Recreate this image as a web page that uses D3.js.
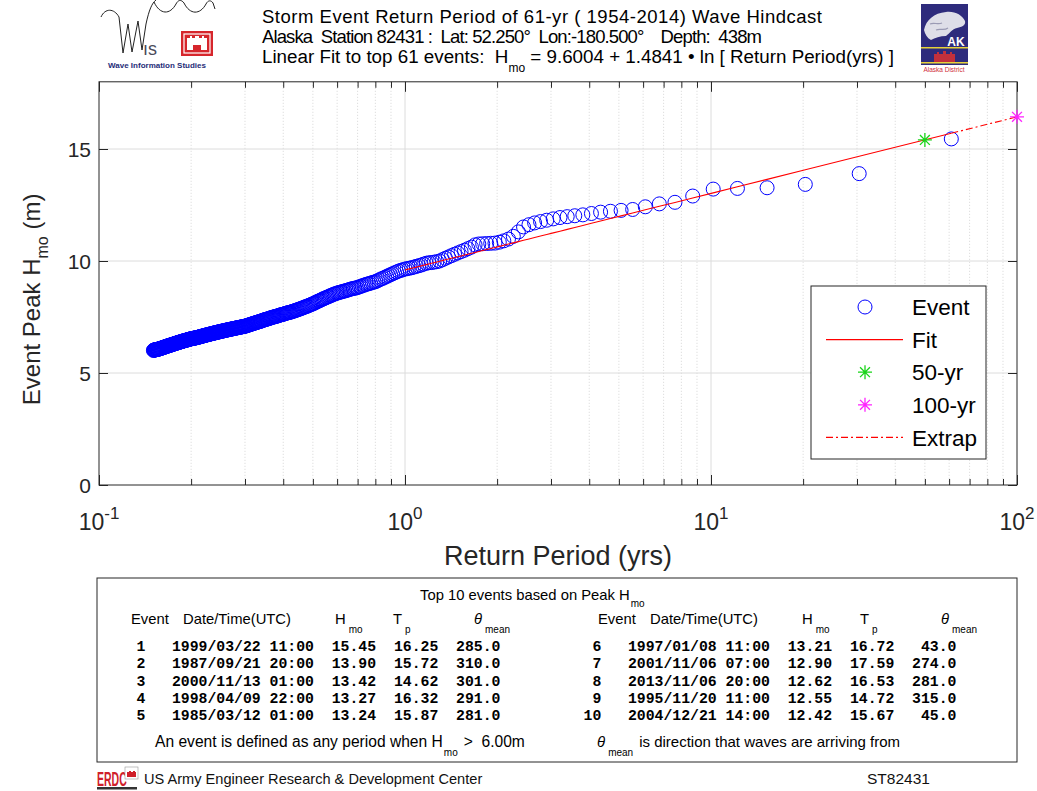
<!DOCTYPE html>
<html><head><meta charset="utf-8">
<script src="https://cdn.jsdelivr.net/npm/d3@7"></script>
<style>
body{margin:0;background:#fff;}
svg{display:block;font-family:"Liberation Sans",Arial,Helvetica,sans-serif;}
</style></head><body>
<svg id="chart" width="1037" height="791"></svg>
<script>
// ---- record / fit parameters ----
const recordYears = 61;          // 1954-2014 hindcast length
const fitCount = 61;             // events used in the fit
const fitIntercept = 9.6004;
const fitSlope = 1.4841;
const designPeriods = [50, 100];

// ---- event peak Hmo (m), sorted by rank ----
const hmo = [
15.45,13.90,13.42,13.27,13.24,13.21,12.90,12.62,12.55,12.42,
12.30,12.26,12.22,12.18,12.12,12.06,12.02,11.98,11.94,11.88,
11.82,11.76,11.70,11.62,11.52,11.30,11.10,10.98,10.90,10.84,
10.80,10.79,10.78,10.77,10.76,10.72,10.62,10.55,10.48,10.42,
10.36,10.30,10.24,10.18,10.12,10.06,10.00,9.97,9.95,9.93,
9.92,9.90,9.86,9.82,9.79,9.76,9.73,9.70,9.68,9.66,9.64,
9.61,9.58,9.55,9.51,9.47,9.43,9.39,
9.35,9.31,9.27,9.23,9.20,9.16,9.12,9.08,
9.06,9.04,9.01,8.99,8.97,8.95,8.92,8.90,8.87,8.85,8.82,
8.80,8.79,8.77,8.76,8.74,8.72,8.70,8.68,8.66,8.65,8.63,8.61,8.60,8.58,8.56,
8.54,8.52,8.50,8.47,8.45,8.42,8.40,8.38,8.35,8.33,8.31,8.28,8.26,8.23,8.21,8.19,8.16,8.14,8.11,8.09,
8.07,8.05,8.03,8.01,7.99,7.97,7.96,7.94,7.92,7.90,7.89,7.87,7.85,7.84,7.82,
7.81,7.79,7.78,7.76,7.75,7.74,7.72,7.71,7.70,7.69,7.68,7.67,7.66,7.64,7.63,
7.62,7.61,7.60,7.59,7.58,7.56,7.55,7.54,7.53,7.52,
7.51,7.50,7.49,7.48,7.47,7.46,7.44,7.43,7.42,7.41,
7.40,7.39,7.38,7.37,7.36,7.35,7.33,7.32,7.31,7.30,
7.29,7.28,7.27,7.26,7.25,7.24,7.23,7.22,7.21,7.20,
7.19,7.18,7.17,7.16,7.15,7.14,7.13,7.12,7.11,7.10,
7.09,7.09,7.08,7.07,7.07,7.06,7.06,7.05,7.04,7.04,
7.03,7.03,7.02,7.02,7.01,7.00,7.00,6.99,6.99,6.98,
6.98,6.97,6.96,6.96,6.95,6.95,6.94,6.94,6.93,6.92,
6.92,6.91,6.91,6.90,6.90,6.89,6.88,6.88,6.87,6.87,
6.86,6.86,6.85,6.84,6.84,6.83,6.83,6.82,6.82,6.81,
6.80,6.80,6.79,6.79,6.78,6.78,6.77,6.76,6.76,6.75,
6.75,6.74,6.74,6.73,6.72,6.72,6.71,6.71,6.70,6.70,
6.69,6.68,6.68,6.67,6.67,6.66,6.66,6.65,6.64,6.64,
6.63,6.63,6.62,6.62,6.61,6.60,6.60,6.59,6.59,6.58,
6.58,6.57,6.57,6.56,6.56,6.56,6.55,6.55,6.55,6.54,6.54,6.53,
6.53,6.52,6.52,6.51,6.51,6.50,6.50,6.49,6.49,6.48,
6.47,6.47,6.46,6.46,6.45,6.45,6.44,6.44,6.43,6.43,
6.42,6.41,6.41,6.40,6.40,6.39,6.39,6.38,6.38,6.37,
6.37,6.36,6.35,6.35,6.34,6.34,6.33,6.33,6.32,6.32,
6.31,6.30,6.30,6.29,6.29,6.28,6.28,6.27,6.27,6.26,
6.25,6.25,6.24,6.24,6.23,6.23,6.22,6.22,6.21,6.21,
6.20,6.19,6.19,6.18,6.18,6.17,6.17,6.16,6.16,6.15,
6.14,6.14,6.13,6.13,6.12,6.12,6.11,6.11,6.10,6.10,
6.09,6.09,6.08,6.08,6.07,6.07,6.06,6.06,6.06,6.05,
6.05,6.05,6.04,6.04,6.04,6.03,6.03,6.03,6.02,6.02,6.01
];

// ---- top 10 event table ----
const topRank = [1,2,3,4,5,6,7,8,9,10];
const topDate = ["1999/03/22","1987/09/21","2000/11/13","1998/04/09","1985/03/12",
                 "1997/01/08","2001/11/06","2013/11/06","1995/11/20","2004/12/21"];
const topTime = ["11:00","20:00","01:00","22:00","01:00","11:00","07:00","20:00","11:00","14:00"];
const topHmo  = [15.45,13.90,13.42,13.27,13.24,13.21,12.90,12.62,12.55,12.42];
const topTp   = [16.25,15.72,14.62,16.32,15.87,16.72,17.59,16.53,14.72,15.67];
const topDir  = [285.0,310.0,301.0,291.0,281.0,43.0,274.0,281.0,315.0,45.0];

// ---- axis ticks and legend ----
const xTickValues = [0.1, 1, 10, 100];
const xTickExponents = ["-1", "0", "1", "2"];
const yTickValues = [0, 5, 10, 15];
const legendLabels = ["Event", "Fit", "50-yr", "100-yr", "Extrap"];

const svg = d3.select("#chart");
svg.append("rect").attr("width", 1037).attr("height", 791).attr("fill", "#fff");

const P = {left: 99, right: 1017, top: 81.8, bottom: 485};
const x = d3.scaleLog().domain([0.1, 100]).range([P.left, P.right]);
const y = d3.scaleLinear().domain([0, 18]).range([P.bottom, P.top]);
const axisColor = "#262626";

const allX = x.ticks();
const minorX = allX.filter(v => !xTickValues.some(m => Math.abs(m - v) < 1e-9));

// ---- grid ----
const grid = svg.append("g");
grid.selectAll("line.minor").data(minorX).join("line")
  .attr("x1", d => x(d)).attr("x2", d => x(d))
  .attr("y1", P.top).attr("y2", P.bottom)
  .attr("stroke", "#d6d6d6").attr("stroke-width", 1).attr("stroke-dasharray", "1,2");
grid.selectAll("line.vmaj").data(xTickValues.slice(1, -1)).join("line")
  .attr("x1", d => x(d)).attr("x2", d => x(d))
  .attr("y1", P.top).attr("y2", P.bottom)
  .attr("stroke", "#dcdcdc").attr("stroke-width", 1);
grid.selectAll("line.hmaj").data(yTickValues.slice(1)).join("line")
  .attr("x1", P.left).attr("x2", P.right)
  .attr("y1", d => y(d)).attr("y2", d => y(d))
  .attr("stroke", "#dcdcdc").attr("stroke-width", 1);

// ---- axes (inward ticks on all four sides) ----
function styleAxis(g) {
  g.select(".domain").remove();
  g.selectAll("line").attr("stroke", axisColor);
}
svg.append("g").attr("transform", `translate(0,${P.bottom})`)
  .call(d3.axisBottom(x).tickValues(minorX).tickSize(-6).tickFormat("")).call(styleAxis);
svg.append("g").attr("transform", `translate(0,${P.bottom})`)
  .call(d3.axisBottom(x).tickValues(xTickValues).tickSize(-10).tickFormat("")).call(styleAxis);
svg.append("g").attr("transform", `translate(0,${P.top})`)
  .call(d3.axisTop(x).tickValues(minorX).tickSize(-6).tickFormat("")).call(styleAxis);
svg.append("g").attr("transform", `translate(0,${P.top})`)
  .call(d3.axisTop(x).tickValues(xTickValues).tickSize(-10).tickFormat("")).call(styleAxis);
svg.append("g").attr("transform", `translate(${P.left},0)`)
  .call(d3.axisLeft(y).tickValues(yTickValues).tickSize(-9).tickFormat("")).call(styleAxis);
svg.append("g").attr("transform", `translate(${P.right},0)`)
  .call(d3.axisRight(y).tickValues(yTickValues).tickSize(-9).tickFormat("")).call(styleAxis);

svg.append("rect").attr("x", P.left).attr("y", P.top)
  .attr("width", P.right - P.left).attr("height", P.bottom - P.top)
  .attr("fill", "none").attr("stroke", axisColor).attr("stroke-width", 1);

// tick labels
svg.append("g").selectAll("text").data(yTickValues).join("text")
  .attr("x", P.left - 8).attr("y", d => y(d)).attr("dy", "0.36em")
  .attr("text-anchor", "end").attr("font-size", 21).attr("fill", axisColor)
  .text(d => d);
const xl = svg.append("g").selectAll("text").data(xTickValues).join("text")
  .attr("x", d => x(d)).attr("y", 530)
  .attr("text-anchor", "middle").attr("font-size", 23).attr("fill", axisColor);
xl.append("tspan").text("10");
xl.append("tspan").attr("dy", -11).attr("font-size", 17).text((d, i) => xTickExponents[i]);

// axis titles
svg.append("text").attr("x", (P.left + P.right) / 2).attr("y", 565)
  .attr("text-anchor", "middle").attr("font-size", 27).attr("fill", axisColor)
  .text("Return Period (yrs)");
const yl = svg.append("text")
  .attr("transform", `translate(40,${(P.top + P.bottom) / 2 + 16}) rotate(-90)`)
  .attr("text-anchor", "middle").attr("font-size", 24).attr("fill", axisColor);
yl.append("tspan").text("Event Peak H");
yl.append("tspan").attr("dy", 8).attr("font-size", 16).text("mo");
yl.append("tspan").attr("dy", -8).text(" (m)");

// ---- data marks ----
const events = hmo.map((h, i) => ({rp: recordYears / (i + 1), h}));
const plot = svg.append("g");
plot.selectAll("circle").data(events).join("circle")
  .attr("cx", d => x(d.rp)).attr("cy", d => y(d.h)).attr("r", 7)
  .attr("fill", "none").attr("stroke", "#0000ff").attr("stroke-width", 1);

const fitH = rp => fitIntercept + fitSlope * Math.log(rp);
const line = d3.line().x(d => x(d)).y(d => y(fitH(d)));
const fitRP = events.slice(0, fitCount).map(d => d.rp).reverse();
plot.append("path").attr("d", line(fitRP))
  .attr("fill", "none").attr("stroke", "#ff0000").attr("stroke-width", 1.1);
plot.append("path").attr("d", line([fitRP[fitRP.length - 1], designPeriods[1]]))
  .attr("fill", "none").attr("stroke", "#ff0000").attr("stroke-width", 1.1)
  .attr("stroke-dasharray", "7,3,2,3");

function asterisk(cx, cy, r) {
  const a = r * Math.SQRT1_2;
  return `M${cx - r},${cy}H${cx + r}M${cx},${cy - r}V${cy + r}` +
         `M${cx - a},${cy - a}L${cx + a},${cy + a}M${cx - a},${cy + a}L${cx + a},${cy - a}`;
}
const starColors = ["#19d419", "#ff22ff"];
designPeriods.forEach((rp, i) => {
  plot.append("path").attr("d", asterisk(x(rp), y(fitH(rp)), 7))
    .attr("stroke", starColors[i]).attr("stroke-width", 1.3).attr("fill", "none");
});

// ---- legend ----
const L = {x: 811, y: 286, w: 175, h: 173};
const lg = svg.append("g");
lg.append("rect").attr("x", L.x).attr("y", L.y).attr("width", L.w).attr("height", L.h)
  .attr("fill", "#fff").attr("stroke", axisColor).attr("stroke-width", 1);
const rowY = i => L.y + 21 + i * 32.6;
lg.selectAll("text").data(legendLabels).join("text")
  .attr("x", 912).attr("y", (d, i) => rowY(i)).attr("dy", "0.36em")
  .attr("font-size", 22.5).attr("fill", "#000").text(d => d);
lg.append("circle").attr("cx", 865).attr("cy", rowY(0)).attr("r", 7)
  .attr("fill", "none").attr("stroke", "#0000ff").attr("stroke-width", 1);
lg.append("line").attr("x1", 826).attr("x2", 903).attr("y1", rowY(1)).attr("y2", rowY(1))
  .attr("stroke", "#ff0000").attr("stroke-width", 1.1);
lg.append("path").attr("d", asterisk(865, rowY(2), 7)).attr("stroke", starColors[0]).attr("stroke-width", 1.3);
lg.append("path").attr("d", asterisk(865, rowY(3), 7)).attr("stroke", starColors[1]).attr("stroke-width", 1.3);
lg.append("line").attr("x1", 826).attr("x2", 903).attr("y1", rowY(4)).attr("y2", rowY(4))
  .attr("stroke", "#ff0000").attr("stroke-width", 1.1).attr("stroke-dasharray", "7,3,2,3");

// ---- title block ----
const titleX = 262;
svg.append("text").attr("x", titleX).attr("y", 23).attr("font-size", 18.5).attr("fill", "#000")
  .attr("textLength", 560).attr("lengthAdjust", "spacing")
  .text("Storm Event Return Period of 61-yr ( 1954-2014) Wave Hindcast");
svg.append("text").attr("x", titleX).attr("y", 43).attr("font-size", 18.5).attr("fill", "#000")
  .style("white-space", "pre").attr("xml:space", "preserve")
  .attr("textLength", 500).attr("lengthAdjust", "spacing")
  .text("Alaska  Station 82431 :  Lat: 52.250\u00b0  Lon:-180.500\u00b0    Depth:  438m");
const t3 = svg.append("text").attr("x", titleX).attr("y", 63).attr("font-size", 18.8).attr("fill", "#000")
  .style("white-space", "pre").attr("xml:space", "preserve");
t3.append("tspan").text("Linear Fit to top 61 events:  H");
t3.append("tspan").attr("dy", 9).attr("font-size", 12).text("mo");
t3.append("tspan").attr("dy", -9)
  .text(` = ${fitIntercept.toFixed(4)} + ${fitSlope.toFixed(4)} \u2022 ln [ Return Period(yrs) ]`);

// ---- WIS logo ----
const wis = svg.append("g");
wis.append("path")
  .attr("d", "M101,17 C105,8 114,8 119,17 L123,53 L128,24 L132,52 L138,21 L142,50 L146,24 C149,10 152,3 156,0")
  .attr("fill", "none").attr("stroke", "#222").attr("stroke-width", 1);
wis.append("path")
  .attr("d", "M154,2 C160,15 170,15 176,4 C178,0 181,-1 184,3 C190,15 200,15 206,4 C208,0 211,0 213,3 L215,9")
  .attr("fill", "none").attr("stroke", "#222").attr("stroke-width", 1);
wis.append("text").attr("x", 143).attr("y", 55).attr("font-size", 18).attr("fill", "#4a4a5a").text("\u0131s");
wis.append("rect").attr("x", 181).attr("y", 31).attr("width", 32).attr("height", 25).attr("fill", "#d6262c");
wis.append("rect").attr("x", 184).attr("y", 34).attr("width", 26).attr("height", 19)
  .attr("fill", "none").attr("stroke", "#fff").attr("stroke-width", 1.2);
wis.append("path")
  .attr("d", "M187,50 V38 H190 V36 H192 V38 H195 V36 H199 V38 H202 V36 H204 V38 H207 V50 H201 V45 H193 V50 Z")
  .attr("fill", "#fff");
wis.append("text").attr("x", 157).attr("y", 68).attr("text-anchor", "middle")
  .attr("font-size", 8).attr("font-weight", "bold").attr("fill", "#1f2d78")
  .text("Wave Information Studies");

// ---- Alaska District logo ----
const ak = svg.append("g");
ak.append("rect").attr("x", 921).attr("y", 4).attr("width", 47).attr("height", 61).attr("fill", "#2e2b7c");
ak.append("path")
  .attr("d", "M924,30 C926,20 934,13 946,12 C955,11 962,15 965,21 C966,25 962,27 957,28 C952,29 950,33 946,36 C940,36 935,38 931,40 C927,38 925,34 924,30 Z")
  .attr("fill", "#dedee8");
ak.append("path").attr("d", "M930,24 C934,22 938,25 942,23 M936,30 C940,28 944,31 948,28")
  .attr("stroke", "#9a9ab4").attr("stroke-width", 1.2).attr("fill", "none");
ak.append("text").attr("x", 956).attr("y", 46).attr("text-anchor", "middle")
  .attr("font-size", 12).attr("font-weight", "bold").attr("fill", "#fff").text("AK");
ak.append("rect").attr("x", 921).attr("y", 47).attr("width", 47).attr("height", 1.5).attr("fill", "#e6d23a");
ak.append("path")
  .attr("d", "M934,62 V54 H937 V52 H939 V54 H943 V51 H946 V54 H950 V52 H952 V54 H955 V62 Z")
  .attr("fill", "#c2303c");
ak.append("rect").attr("x", 921).attr("y", 62).attr("width", 47).attr("height", 1.5).attr("fill", "#e6d23a");
ak.append("text").attr("x", 944).attr("y", 72).attr("text-anchor", "middle")
  .attr("font-size", 6.5).attr("fill", "#d0303a").text("Alaska District");

// ---- top-10 table ----
const T = {x: 97, y: 578, w: 920, h: 184};
const tb = svg.append("g");
tb.append("rect").attr("x", T.x).attr("y", T.y).attr("width", T.w).attr("height", T.h)
  .attr("fill", "#fff").attr("stroke", axisColor).attr("stroke-width", 1);

const capt = tb.append("text").attr("x", 420).attr("y", 600).attr("font-size", 14.8).attr("fill", "#000");
capt.append("tspan").text("Top 10 events based on Peak H");
capt.append("tspan").attr("dx", 1).attr("dy", 7).attr("font-size", 10).text("mo");

function header(x0) {
  const cols = [
    {dx: 0, main: "Event"},
    {dx: 52, main: "Date/Time(UTC)"},
    {dx: 204, main: "H", sub: "mo"},
    {dx: 262, main: "T", sub: "p"},
    {dx: 343, main: "\u03b8", sub: "mean", italic: true}
  ];
  cols.forEach(c => {
    const t = tb.append("text").attr("x", x0 + c.dx).attr("y", 624).attr("font-size", 14.8).attr("fill", "#000");
    t.append("tspan").attr("font-style", c.italic ? "italic" : null).text(c.main);
    if (c.sub) t.append("tspan").attr("dx", 3).attr("dy", 9).attr("font-size", 10).text(c.sub);
  });
}
header(131);
header(598);

const rowText = i =>
  `${String(topRank[i]).padStart(2)}   ${topDate[i]} ${topTime[i]}  ${topHmo[i].toFixed(2)}  ${topTp[i].toFixed(2)}  ${topDir[i].toFixed(1).padStart(5)}`;
topRank.forEach((r, i) => {
  const half = i < 5 ? 0 : 1;
  const k = i % 5;
  tb.append("text")
    .attr("x", half ? 583.5 : 127.5).attr("y", 651 + k * 17.3)
    .attr("font-family", "'Liberation Mono','Courier New',monospace")
    .attr("font-weight", "bold").attr("font-size", 14.8).attr("fill", "#000")
    .style("white-space", "pre").attr("xml:space", "preserve")
    .text(rowText(i));
});

const f1 = tb.append("text").attr("x", 155).attr("y", 747).attr("font-size", 15.6).attr("fill", "#000")
  .style("white-space", "pre").attr("xml:space", "preserve");
f1.append("tspan").text("An event is defined as any period when H");
f1.append("tspan").attr("dx", 1).attr("dy", 9).attr("font-size", 10).text("mo");
f1.append("tspan").attr("dx", 6).attr("dy", -9).text(">  6.00m");
const f2 = tb.append("text").attr("x", 597).attr("y", 747).attr("font-size", 15).attr("fill", "#000");
f2.append("tspan").attr("font-style", "italic").text("\u03b8");
f2.append("tspan").attr("dx", 3).attr("dy", 9).attr("font-size", 10).text("mean");
f2.append("tspan").attr("dx", 6).attr("dy", -9).text("is direction that waves are arriving from");

// ---- footer ----
const ft = svg.append("g");
ft.append("text").attr("transform", "translate(97,786) scale(0.5,1)")
  .attr("font-size", 21).attr("font-weight", "bold").attr("fill", "#d0202a").text("ERDC");
ft.append("rect").attr("x", 125).attr("y", 767).attr("width", 13).attr("height", 12).attr("fill", "#fff")
  .attr("stroke", "#999").attr("stroke-width", 0.6);
ft.append("path").attr("d", "M127,777 V772 H129 V771 H131 V772 H133 V771 H135 V772 H136 V777 Z").attr("fill", "#d0202a");
ft.append("rect").attr("x", 97).attr("y", 787).attr("width", 40).attr("height", 2.5).attr("fill", "#333");
ft.append("text").attr("x", 144).attr("y", 784).attr("font-size", 14.6).attr("fill", "#111")
  .text("US Army Engineer Research & Development Center");
ft.append("text").attr("x", 867).attr("y", 784).attr("font-size", 15.5).attr("fill", "#111")
  .text("ST82431");
</script>
</body></html>
